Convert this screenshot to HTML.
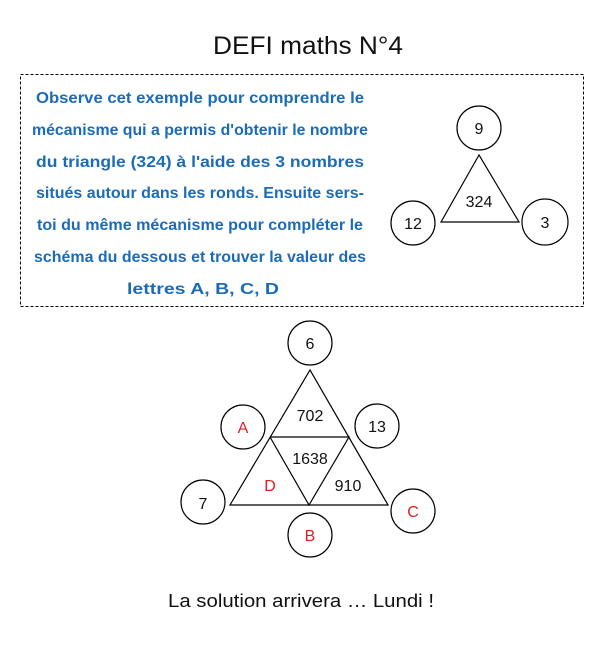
<!DOCTYPE html>
<html><head><meta charset="utf-8"><style>
html,body{margin:0;padding:0;background:#fff;}
svg{display:block}
</style></head><body>
<svg width="612" height="645" viewBox="0 0 612 645" xmlns="http://www.w3.org/2000/svg" font-family="Liberation Sans, sans-serif">
<rect width="612" height="645" fill="#fff"/>
<text x="308" y="54" font-size="25" text-anchor="middle" fill="#111" textLength="190" lengthAdjust="spacingAndGlyphs">DEFI maths N°4</text>
<rect x="20.5" y="74.5" width="563" height="232" fill="none" stroke="#000" stroke-dasharray="3,2"/>
<g fill="#1b6cb8" font-size="16" font-weight="bold" text-anchor="middle" lengthAdjust="spacingAndGlyphs">
<text x="200" y="103" textLength="328" lengthAdjust="spacingAndGlyphs">Observe cet exemple pour  comprendre le</text>
<text x="200" y="135" textLength="336" lengthAdjust="spacingAndGlyphs">mécanisme qui a permis d'obtenir le nombre</text>
<text x="200" y="167" textLength="328" lengthAdjust="spacingAndGlyphs">du triangle (324) à l'aide des 3 nombres</text>
<text x="200" y="198" textLength="328" lengthAdjust="spacingAndGlyphs">situés autour dans les ronds. Ensuite sers-</text>
<text x="200" y="230" textLength="326" lengthAdjust="spacingAndGlyphs">toi du même mécanisme pour compléter le</text>
<text x="200" y="262" textLength="332" lengthAdjust="spacingAndGlyphs">schéma du dessous et trouver la valeur des</text>
<text x="203" y="294" textLength="152" lengthAdjust="spacingAndGlyphs">lettres A, B, C, D</text>
</g>
<g fill="none" stroke="#000" stroke-width="1.2">
<polygon points="479,155 441,222 519,222"/>
<circle cx="479" cy="128" r="22"/>
<circle cx="413" cy="223" r="22"/>
<circle cx="545" cy="222" r="23"/>
<polygon points="310,370 230,505 388,505"/>
<polyline points="270,437 349,437 309,505 270,437"/>
<circle cx="310" cy="343" r="22"/>
<circle cx="243" cy="427" r="22"/>
<circle cx="377" cy="426" r="22"/>
<circle cx="203" cy="502" r="22"/>
<circle cx="310" cy="535" r="22"/>
<circle cx="413" cy="511" r="22"/>
</g>
<g font-size="16" text-anchor="middle" fill="#111">
<text x="479" y="134">9</text>
<text x="413" y="229">12</text>
<text x="545" y="228">3</text>
<text x="479" y="207">324</text>
<text x="310" y="349">6</text>
<text x="377" y="432">13</text>
<text x="203" y="509">7</text>
<text x="310" y="421">702</text>
<text x="310" y="464">1638</text>
<text x="348" y="491">910</text>
</g>
<g font-size="16" text-anchor="middle" fill="#e02020">
<text x="243" y="433">A</text>
<text x="270" y="491">D</text>
<text x="310" y="541">B</text>
<text x="413" y="517">C</text>
</g>
<text x="301" y="607" font-size="18" text-anchor="middle" fill="#111" textLength="266" lengthAdjust="spacingAndGlyphs">La solution arrivera  … Lundi !</text>
</svg>
</body></html>
